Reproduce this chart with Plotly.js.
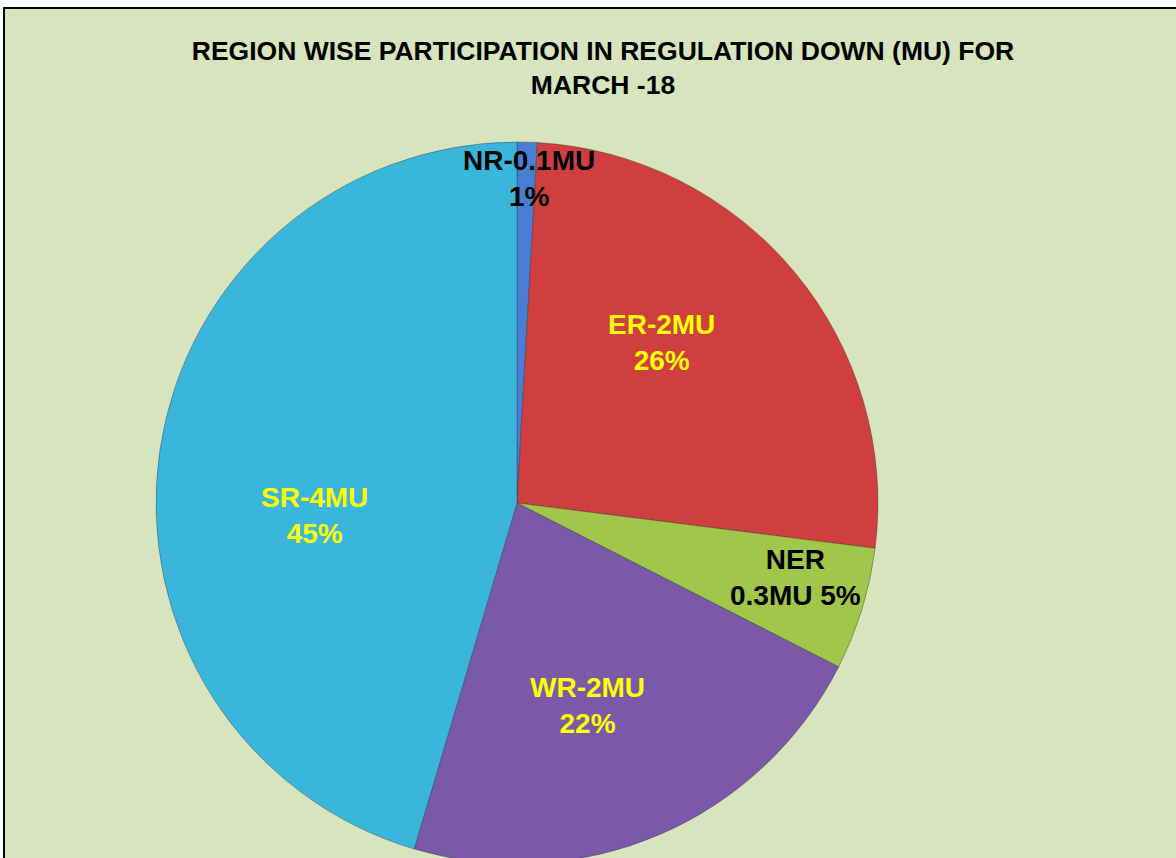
<!DOCTYPE html>
<html>
<head>
<meta charset="utf-8">
<script src="https://cdn.plot.ly/plotly-3.0.1.min.js"></script>
<style>
  html, body { margin: 0; padding: 0; background: #ffffff; overflow: hidden; width: 1176px; height: 858px; }
  #frame { position: absolute; left: 3px; top: 7px; width: 1173px; height: 851px; border-left: 2px solid #000; border-top: 2px solid #000; background: #d7e4bd; overflow: hidden; }
  #chart { position: absolute; left: 0; top: 0; width: 1171px; height: 870px; }
</style>
</head>
<body>
<div id="frame"><div id="chart"></div></div>
<script>
// Data
const regions = ["NR", "ER", "NER", "WR", "SR"];
const energyMU = ["0.1", "2", "0.3", "2", "4"];
const sharePct = [0.9, 26.1, 5.5, 22.1, 45.4];
const shareLabels = ["1%", "26%", "5%", "22%", "45%"];
const sliceColors = ["#4a7ed4", "#d03f3f", "#a0c64a", "#7a5aa8", "#3ab5dc"];
const labelColors = ["#000000", "#ffff00", "#000000", "#ffff00", "#ffff00"];

const W = 1171, H = 870;
const cx = 512, cy = 494, r = 361;

const trace = {
  type: "pie",
  labels: regions,
  values: sharePct,
  sort: false,
  direction: "clockwise",
  rotation: 0,
  textinfo: "none",
  hoverinfo: "label+percent",
  marker: { colors: sliceColors, line: { color: "rgba(40,40,40,0.35)", width: 1 } },
  domain: { x: [(cx - r) / W, (cx + r) / W], y: [1 - (cy + r) / H, 1 - (cy - r) / H] },
  showlegend: false
};

// label block centres (px, relative to chart div)
const labelPos = [[524, 170], [656, 333], [790, 568], [582, 696], [309, 506]];
const labelText = regions.map((rg, i) =>
  rg === "NER" ? rg + "<br>" + energyMU[i] + "MU " + shareLabels[i]
               : rg + "-" + energyMU[i] + "MU<br>" + shareLabels[i]);

const annotations = regions.map((rg, i) => ({
  xref: "paper", yref: "paper",
  x: labelPos[i][0] / W, y: 1 - labelPos[i][1] / H,
  xanchor: "center", yanchor: "middle",
  text: "<b>" + labelText[i] + "</b>",
  showarrow: false,
  align: "center",
  font: { family: "Liberation Sans, Arial, sans-serif", size: 28, color: labelColors[i] }
}));

const layout = {
  width: W, height: H,
  margin: { l: 0, r: 0, t: 0, b: 0 },
  paper_bgcolor: "#d7e4bd",
  plot_bgcolor: "#d7e4bd",
  title: {
    text: "<b>REGION WISE PARTICIPATION IN REGULATION DOWN (MU) FOR<br>MARCH -18</b>",
    x: 598 / W, xanchor: "center",
    y: 1 - 51 / H, yanchor: "middle",
    font: { family: "Liberation Sans, Arial, sans-serif", size: 26.5, color: "#000000" }
  },
  annotations: annotations
};

Plotly.newPlot("chart", [trace], layout, { displayModeBar: false, staticPlot: true });
</script>
</body>
</html>
